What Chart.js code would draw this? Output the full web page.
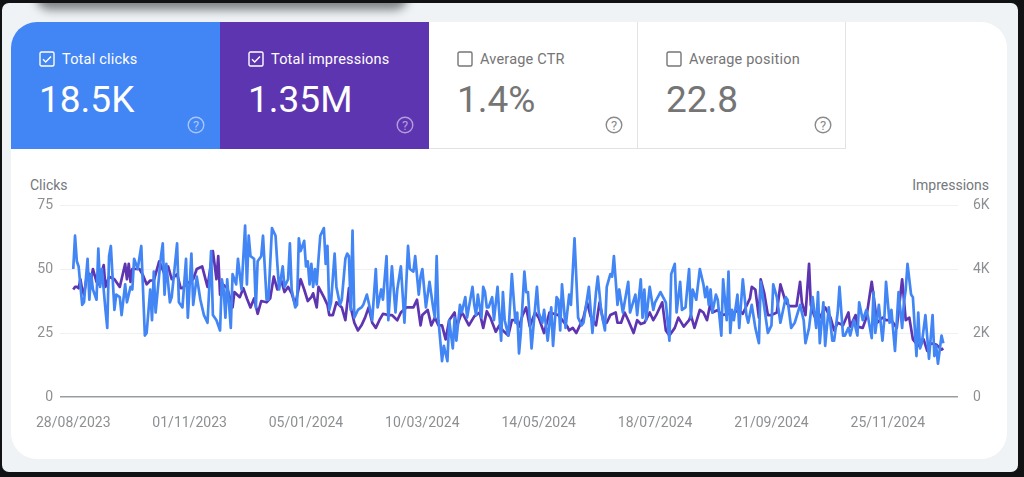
<!DOCTYPE html>
<html>
<head>
<meta charset="utf-8">
<title>Search performance</title>
<script src="https://cdn.jsdelivr.net/npm/chart.js@4"></script>
<style>
html, body { margin: 0; padding: 0; width: 1024px; height: 477px; overflow: hidden; background: #101214; font-family: Roboto, sans-serif; }
#page { position: absolute; left: 0; top: 0; width: 1024px; height: 477px; filter: blur(.35px); }
#panel { position: absolute; left: 2px; top: 3px; width: 1016px; height: 469px; background: #eff3f5; border-radius: 7px; overflow: hidden; }
#shadow { position: absolute; left: 40px; top: -18px; width: 360px; height: 16px; background: #15171a; box-shadow: 0 3px 10px 6px rgba(20,22,25,.5); border-radius: 8px; }
#card { position: absolute; left: 11px; top: 22px; width: 996px; height: 437px; background: #fff; border-radius: 26px; overflow: hidden; }
.tile { position: absolute; top: 0; width: 209px; height: 127px; box-sizing: border-box; color: #757575; }
.tile.plain { border-right: 1px solid #e0e2e5; border-bottom: 1px solid #e0e2e5; background: #fff; }
.tile.on { color: #fff; }
.box { position: absolute; left: 28px; top: 29px; width: 16px; height: 16px; }
.name { position: absolute; left: 51px; top: 29px; font-size: 14.5px; line-height: 18px; letter-spacing: .2px; white-space: nowrap; }
.num { position: absolute; left: 28px; top: 56px; font-size: 37px; line-height: 44px; white-space: nowrap; }
.help { position: absolute; left: 176px; top: 94px; width: 18px; height: 18px; }
.axis-name { position: absolute; top: 177px; font-size: 14px; line-height: 16px; color: #74787c; }
#wrap { position: absolute; left: 0; top: 0; width: 1024px; height: 477px; }
</style>
</head>
<body>
<div id="page">
<div id="panel"><div id="shadow"></div></div>
<div id="card">
  <div class="tile on" style="left:0;background:#4285f4;">
    <svg class="box" viewBox="0 0 16 16"><rect x="1" y="1" width="14" height="14" rx="1.5" fill="none" stroke="#fff" stroke-width="1.4"/><path d="M4 8.2l2.7 2.7L12 5.4" fill="none" stroke="#fff" stroke-width="1.4"/></svg>
    <div class="name">Total clicks</div><div class="num">18.5K</div>
    <svg class="help" viewBox="0 0 18 18"><circle cx="9" cy="9" r="7.8" fill="none" stroke="#a9c6fa" stroke-width="1.4"/><text x="9" y="13.6" font-size="13" text-anchor="middle" fill="#a9c6fa" font-family="Roboto">?</text></svg>
  </div>
  <div class="tile on" style="left:209px;background:#5e35b1;">
    <svg class="box" viewBox="0 0 16 16"><rect x="1" y="1" width="14" height="14" rx="1.5" fill="none" stroke="#fff" stroke-width="1.4"/><path d="M4 8.2l2.7 2.7L12 5.4" fill="none" stroke="#fff" stroke-width="1.4"/></svg>
    <div class="name">Total impressions</div><div class="num">1.35M</div>
    <svg class="help" viewBox="0 0 18 18"><circle cx="9" cy="9" r="7.8" fill="none" stroke="#b39ddb" stroke-width="1.4"/><text x="9" y="13.6" font-size="13" text-anchor="middle" fill="#b39ddb" font-family="Roboto">?</text></svg>
  </div>
  <div class="tile plain" style="left:418px;">
    <svg class="box" viewBox="0 0 16 16"><rect x="1" y="1" width="14" height="14" rx="1.5" fill="none" stroke="#757575" stroke-width="1.4"/></svg>
    <div class="name">Average CTR</div><div class="num">1.4%</div>
    <svg class="help" viewBox="0 0 18 18"><circle cx="9" cy="9" r="7.8" fill="none" stroke="#8a8a8a" stroke-width="1.4"/><text x="9" y="13.6" font-size="13" text-anchor="middle" fill="#8a8a8a" font-family="Roboto">?</text></svg>
  </div>
  <div class="tile plain" style="left:627px;width:208px;">
    <svg class="box" viewBox="0 0 16 16"><rect x="1" y="1" width="14" height="14" rx="1.5" fill="none" stroke="#757575" stroke-width="1.4"/></svg>
    <div class="name">Average position</div><div class="num">22.8</div>
    <svg class="help" viewBox="0 0 18 18"><circle cx="9" cy="9" r="7.8" fill="none" stroke="#8a8a8a" stroke-width="1.4"/><text x="9" y="13.6" font-size="13" text-anchor="middle" fill="#8a8a8a" font-family="Roboto">?</text></svg>
  </div>
</div>
<div class="axis-name" style="left:30px;">Clicks</div>
<div class="axis-name" style="right:35px;">Impressions</div>
<div id="wrap"><canvas id="perf-chart"></canvas></div>
</div>
<script>
// x轴刻度：距 28/08/2023 的天数
const tickDays = [0, 65, 130, 195, 260, 325, 390, 455];
const tickLabels = ['28/08/2023', '01/11/2023', '05/01/2024', '10/03/2024', '14/05/2024', '18/07/2024', '21/09/2024', '25/11/2024'];

const clickTicks = [0, 25, 50, 75];
const impressionTicks = ['0', '2K', '4K', '6K'];

// [day, clicks]
const clicks = [
  [0,50],[1,63],[2,53],[3,51],[5,36],[6,37],[8,54],[9,38],[10,48],[11,42],[13,38],[14,58],[15,43],[16,50],[18,34],[19,27],[20,55],[21,59],[23,34],[24,40],
  [26,39],[27,32],[29,44],[30,37],[32,43],[33,42],[34,54],[36,50],[38,59],[40,24],[41,25],[43,42],[44,30],[45,49],[46,33],[49,55],[50,60],[51,40],[52,52],[54,37],
  [55,39],[58,60],[59,37],[61,35],[63,54],[64,31],[66,56],[67,36],[69,47],[71,38],[73,32],[75,29],[77,57],[78,32],[80,30],[82,26],[83,46],[84,42],[85,31],[86,46],
  [88,27],[89,48],[91,44],[92,54],[94,42],[96,67],[97,44],[98,63],[99,55],[101,54],[102,35],[103,53],[105,55],[106,63],[108,38],[109,38],[111,66],[113,63],[114,52],[115,42],
  [117,51],[118,43],[120,46],[121,60],[122,42],[124,35],[125,36],[126,62],[127,57],[129,61],[130,51],[131,53],[132,44],[133,52],[134,43],[135,50],[136,44],[137,54],[138,63],[140,66],
  [141,52],[142,59],[143,34],[144,37],[146,56],[147,43],[149,36],[150,38],[152,54],[153,56],[154,55],[155,34],[156,65],[157,31],[159,34],[161,35],[162,36],[164,40],[165,37],[167,30],
  [169,50],[170,35],[172,42],[173,38],[175,55],[176,30],[178,51],[180,33],[181,42],[183,51],[185,29],[187,59],[188,50],[190,49],[191,55],[193,40],[194,47],[195,50],[197,35],[199,45],
  [201,35],[202,31],[203,55],[204,30],[206,14],[207,20],[209,14],[210,30],[212,19],[213,31],[214,22],[216,36],[217,33],[219,39],[220,31],[223,43],[224,36],[225,32],[226,40],[228,31],
  [229,43],[230,41],[231,35],[232,35],[234,39],[235,30],[237,43],[239,22],[240,41],[241,30],[243,24],[245,48],[247,29],[248,33],[249,17],[250,25],[252,49],[253,41],[254,41],[256,19],
  [259,43],[260,33],[262,29],[263,34],[265,22],[267,35],[268,20],[270,39],[271,38],[272,26],[273,44],[275,27],[277,40],[278,36],[280,62],[282,31],[284,28],[285,29],[288,43],[290,25],
  [292,41],[293,47],[295,33],[297,26],[298,43],[300,48],[301,47],[302,55],[304,36],[305,42],[307,33],[310,45],[311,33],[314,40],[315,32],[317,46],[318,31],[319,42],[320,30],[322,43],
  [324,34],[325,37],[328,41],[331,37],[333,22],[334,48],[336,52],[337,33],[339,45],[340,34],[342,35],[344,50],[345,31],[346,42],[348,38],[350,50],[352,44],[353,39],[354,43],[355,36],
  [356,42],[357,33],[359,40],[360,38],[362,24],[363,46],[365,30],[366,49],[367,25],[368,34],[369,30],[371,40],[372,27],[374,46],[376,32],[377,29],[379,36],[381,27],[383,21],[384,45],
  [386,35],[388,25],[390,28],[391,44],[393,39],[395,29],[398,39],[399,38],[401,27],[403,29],[406,36],[408,30],[409,21],[411,27],[413,39],[415,27],[416,41],[417,21],[419,37],[420,20],
  [422,35],[424,22],[425,22],[427,33],[428,43],[430,24],[431,24],[433,27],[434,24],[436,30],[438,24],[439,37],[441,30],[443,34],[444,31],[446,23],[447,41],[448,25],[450,36],[452,22],
  [453,30],[454,45],[456,29],[457,34],[459,18],[461,41],[463,27],[464,37],[465,42],[466,52],[468,40],[469,39],[471,16],[472,33],[473,19],[474,21],[476,32],[478,15],[480,32],[481,16],
  [482,20],[483,13],[485,24],[486,21]
];

// [day, impressions]
const impressions = [
  [0,3360],[1,3440],[2,3440],[3,3400],[4,3680],[5,3360],[6,3200],[8,3920],[10,3680],[11,4000],[13,3600],[14,3520],[15,3680],[17,4120],[18,3440],[20,3760],[23,3680],[26,3440],[27,3680],[29,4160],
  [30,3680],[31,4160],[32,3600],[33,4000],[37,4000],[39,3800],[41,3520],[43,3640],[45,3640],[48,4240],[51,3840],[53,4080],[55,3680],[58,3840],[60,3400],[61,3400],[63,3520],[67,3680],[69,4000],[72,4080],
  [75,3440],[78,4560],[80,3680],[81,4400],[82,3200],[84,3500],[86,3400],[89,2800],[90,3280],[93,3120],[95,3400],[97,3080],[99,2800],[101,3080],[103,2600],[105,3000],[108,2960],[110,3080],[112,3760],[114,3360],
  [116,3680],[118,3280],[120,3440],[122,3240],[124,2880],[127,3680],[129,3360],[131,3000],[133,3120],[134,3240],[136,2800],[137,3440],[140,3120],[142,2880],[143,2560],[145,2560],[147,2960],[150,2800],[152,2400],[154,3400],
  [155,2800],[157,2320],[159,2080],[161,2240],[163,2480],[165,2800],[167,2320],[169,2160],[171,2400],[173,2600],[176,2560],[178,2560],[181,2400],[183,2640],[186,2800],[190,2800],[192,3040],[194,2240],[195,2560],[198,2720],
  [200,2240],[202,2480],[204,2240],[206,2240],[208,1800],[210,2400],[213,2640],[214,2160],[217,2640],[218,2560],[221,2240],[224,2520],[227,2640],[229,2160],[231,2680],[233,2480],[236,2040],[238,2240],[240,2080],[243,1920],
  [245,2400],[247,2400],[249,2200],[251,2560],[253,2800],[255,2200],[258,2640],[260,2480],[263,2000],[266,2640],[271,2560],[276,2200],[277,2080],[279,2160],[281,2000],[283,2240],[285,2480],[287,2960],[289,2520],[292,2240],
  [294,2960],[296,2400],[298,2320],[300,2560],[303,2640],[304,2320],[306,2320],[308,2640],[310,2400],[313,2000],[315,2400],[317,2280],[319,2320],[322,2640],[324,2400],[326,2600],[329,2960],[331,2080],[333,1920],[336,2160],
  [338,2480],[341,2200],[344,2400],[345,2560],[347,2160],[350,2720],[352,2640],[354,2400],[356,2960],[357,2640],[360,2720],[362,2560],[366,2600],[369,2640],[372,2720],[374,2600],[378,3080],[379,3440],[381,3360],[383,2480],
  [384,3680],[386,3240],[388,2560],[390,2560],[393,2640],[395,3520],[398,2960],[400,2840],[404,2840],[406,3600],[407,2960],[409,2560],[411,4160],[412,2880],[414,2520],[417,2480],[420,2800],[423,2480],[425,2080],[427,2320],
  [430,2240],[433,2640],[434,2200],[437,2560],[438,2200],[441,2160],[443,2480],[446,3600],[449,2320],[452,2480],[454,2400],[457,2400],[460,2160],[463,3680],[465,2400],[467,2480],[469,1800],[472,1600],[475,1800],[477,1440],
  [479,1680],[482,1640],[485,1480],[486,1520]
];

const tickFont = { family: 'Roboto', size: 14 };
const tickColor = '#8d9093';

function toPoints(rows) {
    return rows.map(row => ({ x: row[0], y: row[1] }));
}

new Chart(document.getElementById('perf-chart').getContext('2d'), {
    type: 'line',
    data: {
        datasets: [{
            label: 'Clicks',
            data: toPoints(clicks),
            yAxisID: 'yClicks',
            borderColor: '#4285f4',
            borderWidth: 2.7,
            pointRadius: 0,
            tension: 0,
            borderJoinStyle: 'round'
        }, {
            label: 'Impressions',
            data: toPoints(impressions),
            yAxisID: 'yImpressions',
            borderColor: '#5e35b1',
            borderWidth: 2.7,
            pointRadius: 0,
            tension: 0,
            borderJoinStyle: 'round'
        }]
    },
    options: {
        responsive: true,
        maintainAspectRatio: false,
        animation: false,
        layout: { padding: { top: 205, left: 0, right: 0, bottom: 0 } },
        plugins: { legend: { display: false }, tooltip: { enabled: false } },
        scales: {
            x: {
                type: 'linear',
                min: -7.4,
                max: 494.2,
                grid: { display: false },
                border: { display: false },
                afterBuildTicks: axis => { axis.ticks = tickDays.map(value => ({ value })); },
                afterFit: axis => { axis.height = 80; },
                ticks: {
                    autoSkip: false,
                    maxRotation: 0,
                    padding: 10,
                    color: tickColor,
                    font: tickFont,
                    callback: value => tickLabels[tickDays.indexOf(value)]
                }
            },
            yClicks: {
                position: 'left',
                min: 0,
                max: 75,
                border: { display: false },
                grid: {
                    drawTicks: false,
                    lineWidth: ctx => ctx.tick.value === 0 ? 1.4 : 1,
                    color: ctx => ctx.tick.value === 0 ? '#9a9da0' : '#eef0f2'
                },
                afterBuildTicks: axis => { axis.ticks = clickTicks.map(value => ({ value })); },
                afterFit: axis => { axis.width = 60; },
                ticks: { padding: 7, color: tickColor, font: tickFont }
            },
            yImpressions: {
                position: 'right',
                min: 0,
                max: 6000,
                border: { display: false },
                grid: { display: false },
                afterBuildTicks: axis => { axis.ticks = impressionTicks.map((t, i) => ({ value: i * 2000 })); },
                afterFit: axis => { axis.width = 66; },
                ticks: {
                    padding: 7,
                    color: tickColor,
                    font: tickFont,
                    callback: value => impressionTicks[value / 2000]
                }
            }
        }
    }
});
</script>
</body>
</html>
